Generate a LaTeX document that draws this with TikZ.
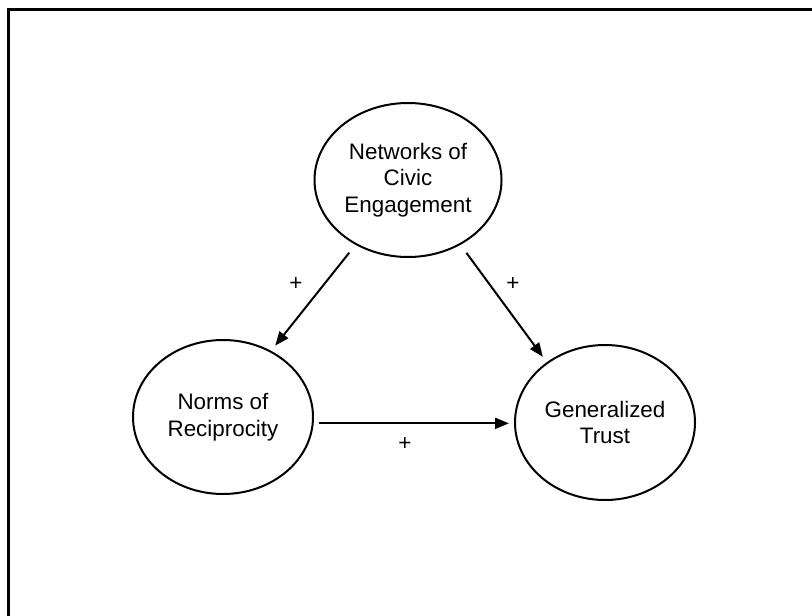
\documentclass[tikz,border=0pt]{standalone}
\usepackage{fontspec}
\setmainfont{Liberation Sans}
\usetikzlibrary{shapes.geometric}
\usetikzlibrary{arrows.meta}

\begin{document}
\begin{tikzpicture}[x=0.5pt,y=-0.5pt,
  var/.style={ellipse,draw=black,line width=1pt,inner sep=0pt,align=center,font=\fontsize{11.2}{13.25}\selectfont},
  sign/.style={font=\fontsize{11.2}{13.25}\selectfont,inner sep=0pt},
  arr/.style={-{Triangle[length=7pt,width=5.5pt]},line width=1pt}]
\useasboundingbox (0,0) rectangle (812,615);
\draw[black,line width=1.5pt] (8.5,620) -- (8.5,10) -- (820,10);

\node[var,minimum width=93.5pt,minimum height=77pt] (net) at (408,180) {Networks of\\Civic\\Engagement};
\node[var,minimum width=90pt,minimum height=77pt] (norms) at (223,417) {Norms of\\Reciprocity};
\node[var,minimum width=90pt,minimum height=77.5pt] (trust) at (605,422.5) {Generalized\\Trust};

\draw[arr,shorten <=5pt,shorten >=3.3pt] (net.-129) -- (norms.54);
\draw[arr,shorten <=5pt,shorten >=3.3pt] (net.-51) -- (trust.134.5);
\draw[arr,shorten <=2.5pt,shorten >=2.5pt] (norms.-4) -- (norms.-4 -| trust.west);

\node[sign] (plusl) at (296,284) {+};
\node[sign] (plusr) at (513,284) {+};
\node[sign] (plusb) at (405,444) {+};
\end{tikzpicture}
\end{document}
